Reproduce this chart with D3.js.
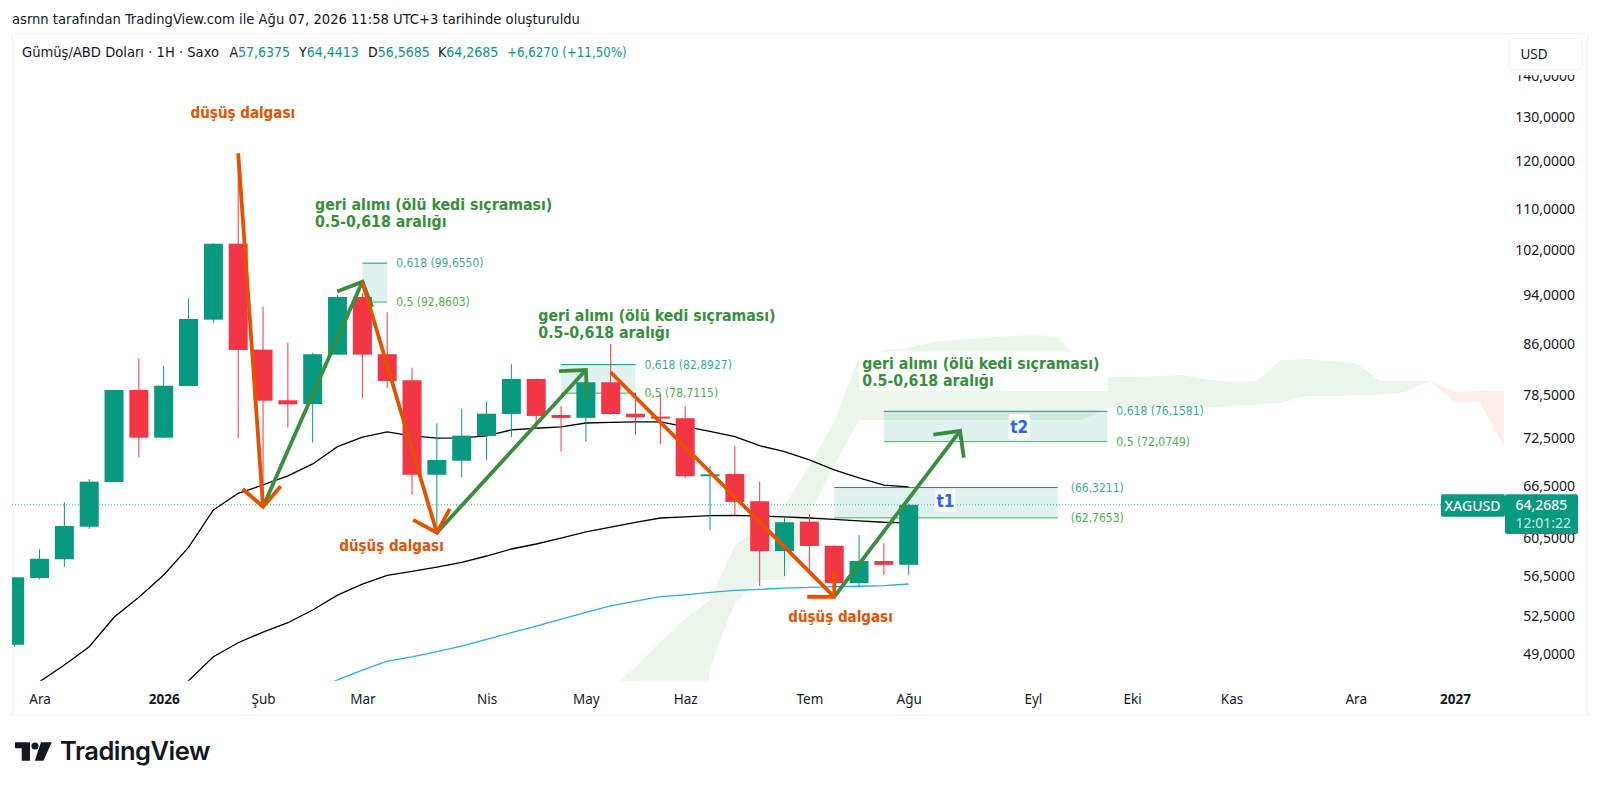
<!DOCTYPE html>
<html>
<head>
<meta charset="utf-8">
<script src="https://cdn.jsdelivr.net/npm/d3@7"></script>
<style>
html, body { margin: 0; padding: 0; background: #fff; }
svg { display: block; font-family: "DejaVu Sans Condensed", "Noto Sans", sans-serif; }
</style>
</head>
<body>
<svg width="1600" height="789"></svg>
<script>
// weekly candles
const opens = [49.86,56.28,58.22,61.77,66.99,79.16,72.60,79.74,89.94,103.23,85.18,77.70,77.18,84.41,93.72,84.47,80.57,67.88,69.63,72.83,75.79,80.77,75.66,75.25,80.28,75.83,75.43,75.21,67.69,67.97,64.69,59.10,62.34,59.67,55.76,58.04,57.6375];
const highs = [56.4,59.29,64.57,67.36,79.2,83.85,82.70,93.50,103.3,121.64,92.08,86.26,84.71,94.06,94.4,91.15,82.44,74.52,76.48,77.56,82.95,80.8,76.90,80.6,86.07,78.77,78.60,76.90,68.97,71.52,67.03,62.90,63.21,59.7,60.85,59.93,64.4413];
const lows = [49.67,56.14,57.43,61.53,66.95,70.06,72.58,79.72,89.35,72.53,64.25,73.93,71.95,84.38,77.98,79.41,65.43,61.29,67.56,69.72,72.66,73.76,70.78,72.08,75.66,72.96,71.74,67.45,61.40,63.10,55.46,56.48,57.10,55.55,55.39,56.58,56.5685];
const closes = [56.35,58.28,61.85,67.03,79.16,72.60,79.78,90.05,103.23,85.13,77.64,77.13,84.47,93.72,84.41,80.47,67.88,69.72,72.87,75.83,80.77,75.52,75.25,80.28,75.79,75.34,75.16,67.69,67.93,64.61,59.10,62.27,59.64,55.76,58.04,57.64,64.2685];

// moving averages, first value belongs to the candle index in the *Start const
const maFastStart = 0;
const maFast = [45.4,46.62,48.06,49.68,52.40,54.34,56.58,59.50,63.67,65.63,66.63,67.73,69.22,71.43,72.66,73.36,72.83,72.53,72.57,72.83,73.63,73.85,74.03,74.56,74.65,74.70,74.70,74.06,73.45,72.73,71.55,70.78,69.72,68.47,67.48,66.60,66.39];
const maSlowStart = 6;
const maSlow = [45.2,46.71,48.78,50.04,51.02,51.89,53.10,54.56,55.66,56.55,56.96,57.41,57.90,58.57,59.32,59.86,60.51,61.18,61.73,62.25,62.75,62.87,63.02,63.05,62.97,62.87,62.75,62.60,62.43,62.27,62.20];
const maBlueStart = 12;
const maBlue = [46.0,46.77,47.62,48.40,48.78,49.23,49.74,50.35,50.96,51.58,52.24,52.87,53.51,53.97,54.40,54.59,54.83,55.03,55.13,55.26,55.33,55.40,55.44,55.50,55.67];

// cloud, starts at candle index 24 and runs into the future
const cloudStart = 24;
const cloudUpper = [45.93,47.90,50.13,52.30,54.07,59.75,61.62,64.26,68.97,74.70,84.06,85.13,85.44,86.42,86.77,87.00,87.32,87.48,87.21,82.84,81.06,81.06,81.20,81.35,80.69,80.40,80.47,83.60,83.76,83.44,83.15,80.47,80.47,80.47,78.88,79.03,79.07];
const cloudLower = [30.0,30.5,31.0,31.4,47.90,53.78,56.07,56.07,63.10,69.09,74.96,74.96,74.96,74.96,74.96,74.96,74.96,74.96,74.96,74.96,76.62,76.62,76.62,76.62,76.69,76.90,77.11,77.32,78.31,78.31,78.38,78.45,78.88,80.47,77.46,77.46,71.30];
const cloudFlip = 57; // where the two spans cross, green before and red after

// retracement boxes: start index, end index, top, bottom, labels
const fibStart = [14, 22, 33, 35];
const fibEnd = [15, 25, 42, 44];
const fibTop = [99.6550, 82.8927, 66.3211, 76.1581];
const fibBottom = [92.8603, 78.7115, 62.7653, 72.0749];
const fibTopLabels = ['0,618 (99,6550)', '0,618 (82,8927)', '(66,3211)', '0,618 (76,1581)'];
const fibBottomLabels = ['0,5 (92,8603)', '0,5 (78,7115)', '(62,7653)', '0,5 (72,0749)'];

// drawn waves as index / price
const orangeWaves = [[[9, 121.64], [10, 64.05]], [[14, 96.36], [17, 61.10]], [[24, 81.75], [33, 54.39]]];
const greenWaves = [[[10, 64.05], [14, 96.36]], [[17, 61.10], [23, 82.09]], [[33, 54.39], [38.07, 73.49]]];

const priceTicks = [49, 52.5, 56.5, 60.5, 66.5, 72.5, 78.5, 86, 94, 102, 110, 120, 130, 140];
const timeTicks = [1, 6, 10, 14, 19, 23, 27, 32, 36, 41, 45, 49, 54, 58];
const timeLabels = ['Ara', '2026', 'Şub', 'Mar', 'Nis', 'May', 'Haz', 'Tem', 'Ağu', 'Eyl', 'Eki', 'Kas', 'Ara', '2027'];

const lastPrice = closes[closes.length - 1];

const green = '#089981';
const red = '#f23645';
const orange = '#e65100';
const wave = '#388e3c';
const fibGreen = '#4caf50';
const textCol = '#131722';
const labelFont = '"Noto Sans", sans-serif';

const svg = d3.select('svg');

//pane size
const pane = { left: 12, top: 33, right: 1504, bottom: 680.7 };

const xscale = d3.scaleLinear().domain([0, 36]).range([14.7, 908.7]);
const yscale = d3.scaleLog().domain([49, 140]).range([654.3, 75.85]);

const comma = d3.formatLocale({ decimal: ',', thousands: '.', grouping: [3], currency: ['', ''] }).format('.4f');

svg.append('defs').append('clipPath').attr('id', 'pane')
  .append('rect')
  .attr('x', pane.left).attr('y', pane.top)
  .attr('width', pane.right - pane.left).attr('height', pane.bottom - pane.top);

//frame
svg.append('rect')
  .attr('x', 12.5).attr('y', 33.5).attr('width', 1575).attr('height', 681.5)
  .attr('fill', '#fff').attr('stroke', '#f0f3fa');

//top caption
svg.append('text')
  .attr('x', 12).attr('y', 23.5)
  .attr('font-size', 14.6).attr('fill', textCol)
  .text('asrnn tarafından TradingView.com ile Ağu 07, 2026 11:58 UTC+3 tarihinde oluşturuldu');

const plot = svg.append('g').attr('clip-path', 'url(#pane)');

//cloud
const cloudArea = d3.area()
  .x(d => xscale(d.i))
  .y0(d => yscale(d.lo))
  .y1(d => yscale(d.up));
const cloudRows = cloudUpper.map((up, k) => ({ i: cloudStart + k, up: up, lo: cloudLower[k] }));

plot.append('path')
  .attr('d', cloudArea(cloudRows.filter(d => d.i <= cloudFlip)))
  .attr('fill', 'rgba(67,160,71,0.1)');
plot.append('path')
  .attr('d', cloudArea(cloudRows.filter(d => d.i >= cloudFlip)))
  .attr('fill', 'rgba(244,67,54,0.1)');

//retracement boxes
fibTop.forEach((top, k) => {
  const x0 = xscale(fibStart[k]);
  const x1 = xscale(fibEnd[k]);
  const y0 = yscale(top);
  const y1 = yscale(fibBottom[k]);
  const gap = k === 2 ? 13 : 9;
  plot.append('rect')
    .attr('x', x0).attr('y', y0)
    .attr('width', x1 - x0).attr('height', y1 - y0)
    .attr('fill', 'rgba(8,153,129,0.13)');
  plot.append('line')
    .attr('x1', x0).attr('x2', x1).attr('y1', y0).attr('y2', y0)
    .attr('stroke', green);
  plot.append('line')
    .attr('x1', x0).attr('x2', x1).attr('y1', y1).attr('y2', y1)
    .attr('stroke', fibGreen);
  plot.append('text')
    .attr('x', x1 + gap).attr('y', y0 + 4)
    .attr('font-size', 12).attr('fill', green).attr('fill-opacity', 0.85)
    .text(fibTopLabels[k]);
  plot.append('text')
    .attr('x', x1 + gap).attr('y', y1 + 4)
    .attr('font-size', 12).attr('fill', fibGreen)
    .text(fibBottomLabels[k]);
});

//moving averages
const maLine = d3.line().x(d => xscale(d.i)).y(d => yscale(d.v));
const maRows = (vals, start) => vals.map((v, k) => ({ i: start + k, v: v }));

plot.append('path').attr('d', maLine(maRows(maFast, maFastStart)))
  .attr('fill', 'none').attr('stroke', '#000').attr('stroke-width', 1.3);
plot.append('path').attr('d', maLine(maRows(maSlow, maSlowStart)))
  .attr('fill', 'none').attr('stroke', '#000').attr('stroke-width', 1.3);
plot.append('path').attr('d', maLine(maRows(maBlue, maBlueStart)))
  .attr('fill', 'none').attr('stroke', '#2fa8ee').attr('stroke-width', 1.3);

//last price line
plot.append('line')
  .attr('x1', pane.left).attr('x2', pane.right)
  .attr('y1', yscale(lastPrice)).attr('y2', yscale(lastPrice))
  .attr('stroke', green).attr('stroke-dasharray', '1 2').attr('stroke-opacity', 0.8);

//candles
const candles = opens.map((o, i) => ({ i: i, o: o, h: highs[i], l: lows[i], c: closes[i] }));
const candleCol = d => d.c >= d.o ? green : red;
const bodyW = 19;

plot.selectAll('.wick').data(candles).enter().append('line')
  .attr('class', 'wick')
  .attr('x1', d => xscale(d.i)).attr('x2', d => xscale(d.i))
  .attr('y1', d => yscale(d.h)).attr('y2', d => yscale(d.l))
  .attr('stroke', candleCol).attr('stroke-width', 1);

plot.selectAll('.body').data(candles).enter().append('rect')
  .attr('class', 'body')
  .attr('x', d => xscale(d.i) - bodyW / 2)
  .attr('y', d => yscale(Math.max(d.o, d.c)))
  .attr('width', bodyW)
  .attr('height', d => Math.max(1, Math.abs(yscale(d.o) - yscale(d.c))))
  .attr('fill', candleCol);

//arrows, the head is a fixed size in screen space
const drawWave = (g, seg, col) => {
  const x0 = xscale(seg[0][0]);
  const y0 = yscale(seg[0][1]);
  const x1 = xscale(seg[1][0]);
  const y1 = yscale(seg[1][1]);
  const ang = Math.atan2(y1 - y0, x1 - x0);
  const len = 27;
  const barb = s => [x1 - len * Math.cos(ang + s * Math.PI / 4), y1 - len * Math.sin(ang + s * Math.PI / 4)];
  const line = d3.line();
  g.append('path').attr('d', line([[x0, y0], [x1, y1]]))
    .attr('fill', 'none').attr('stroke', col).attr('stroke-width', 3.8);
  g.append('path').attr('d', line([barb(1), [x1, y1], barb(-1)]))
    .attr('fill', 'none').attr('stroke', col).attr('stroke-width', 3.8);
};
greenWaves.forEach(s => drawWave(plot, s, wave));
orangeWaves.forEach(s => drawWave(plot, s, orange));

//white tags for t1 t2 and the third note
const tag = (label, i, price, w, h) => {
  const cx = xscale(i);
  const cy = yscale(price);
  plot.append('rect').attr('x', cx - w / 2).attr('y', cy - h / 2).attr('width', w).attr('height', h).attr('fill', '#fff');
  plot.append('text').attr('x', cx).attr('y', cy + 6)
    .attr('text-anchor', 'middle').attr('font-size', 17).attr('font-weight', 700).attr('fill', '#2962ff')
    .text(label);
};
tag('t1', 37.48, 64.75, 20, 22);
tag('t2', 40.45, 74.05, 21, 25);

//notes
const note = (x, y, lines, fs) => {
  lines.forEach((t, k) => {
    plot.append('text')
      .attr('x', x).attr('y', y + k * 16.8)
      .attr('font-size', fs).attr('font-weight', 700).attr('fill', wave)
      .text(t);
  });
};
const noteLines = ['geri alımı (ölü kedi sıçraması)', '0.5-0,618 aralığı'];
const downNotes = [[190.6, 118], [339.3, 550.7], [788.3, 621.7]];

plot.append('rect').attr('x', 859).attr('y', 351.7).attr('width', 249).attr('height', 39.3).attr('fill', '#fff');
note(315, 210, noteLines, 15.75);
note(538.3, 320.7, noteLines, 15.75);
note(862.3, 368.7, noteLines, 15.75);

downNotes.forEach(p => {
  plot.append('text')
    .attr('x', p[0]).attr('y', p[1])
    .attr('font-size', 15).attr('font-weight', 700).attr('fill', orange)
    .text('düşüş dalgası');
});

//price axis
const yAxis = svg.append('g')
  .attr('transform', 'translate(1575,0)')
  .call(d3.axisLeft(yscale).tickValues(priceTicks).tickFormat(comma).tickSize(0).tickPadding(0));
yAxis.select('.domain').remove();
yAxis.selectAll('text')
  .attr('font-size', 14).attr('fill', textCol).attr('font-family', labelFont);

//time axis
const xAxis = svg.append('g')
  .attr('transform', 'translate(0,691)')
  .call(d3.axisBottom(xscale).tickValues(timeTicks).tickFormat((d, k) => timeLabels[k]).tickSize(0).tickPadding(3));
xAxis.select('.domain').remove();
xAxis.selectAll('text')
  .attr('font-size', 13.5).attr('fill', textCol).attr('font-family', labelFont)
  .attr('font-weight', (d, k) => /^20/.test(timeLabels[k]) ? 700 : 400);

//legend
const legend = svg.append('text').attr('y', 57).attr('font-size', 14);
legend.append('tspan').attr('x', 22).attr('font-size', 14.6).attr('fill', textCol).text('Gümüş/ABD Doları · 1H · Saxo');
[['A', '57,6375', 229.4], ['Y', '64,4413', 299], ['D', '56,5685', 368], ['K', '64,2685', 438]].forEach(r => {
  legend.append('tspan').attr('x', r[2]).attr('fill', textCol).text(r[0]);
  legend.append('tspan').attr('fill', green).text(r[1]);
});
legend.append('tspan').attr('x', 507).attr('font-size', 13.2).attr('fill', green).text('+6,6270 (+11,50%)');

//currency button, it sits on top of the 140 label
svg.append('rect').attr('x', 1508).attr('y', 38).attr('width', 75).attr('height', 37).attr('fill', '#fff');
svg.append('rect')
  .attr('x', 1508.5).attr('y', 38.5).attr('width', 74).attr('height', 31.5).attr('rx', 6)
  .attr('fill', '#fff').attr('stroke', '#f0f3fa');
svg.append('text').attr('x', 1520.5).attr('y', 58.5).attr('font-size', 13.5).attr('font-family', labelFont).attr('fill', textCol).text('USD');

//last price tags
svg.append('rect').attr('x', 1441).attr('y', 494.3).attr('width', 64).attr('height', 22.4).attr('rx', 2).attr('fill', green);
svg.append('rect').attr('x', 1505).attr('y', 494.3).attr('width', 73).attr('height', 39.7).attr('rx', 2).attr('fill', green);
svg.append('text').attr('x', 1472.5).attr('y', 510.5).attr('text-anchor', 'middle')
  .attr('font-size', 14).attr('font-weight', 500).attr('font-family', labelFont).attr('fill', '#fff').text('XAGUSD');
svg.append('text').attr('x', 1515.5).attr('y', 510).attr('font-size', 14).attr('font-weight', 500).attr('font-family', labelFont).attr('fill', '#fff').text(comma(lastPrice));
svg.append('text').attr('x', 1515.5).attr('y', 527.5).attr('font-size', 14).attr('font-family', labelFont).attr('fill', '#fff').attr('fill-opacity', 0.8).text('12:01:22');

//logo
const logo = svg.append('g').attr('fill', '#131722');
logo.append('path').attr('d', 'M15 742.3H30V760.7H21.7V748.3H15Z');
logo.append('circle').attr('cx', 35).attr('cy', 746).attr('r', 3.6);
logo.append('path').attr('d', 'M41 742.3H51.7L43.5 760.7H34.8Z');
svg.append('text').attr('x', 60).attr('y', 760)
  .attr('font-family', 'Inter, sans-serif').attr('font-size', 25.5).attr('font-weight', 600)
  .attr('letter-spacing', -0.5).attr('fill', '#131722')
  .text('TradingView');
</script>
</body>
</html>
